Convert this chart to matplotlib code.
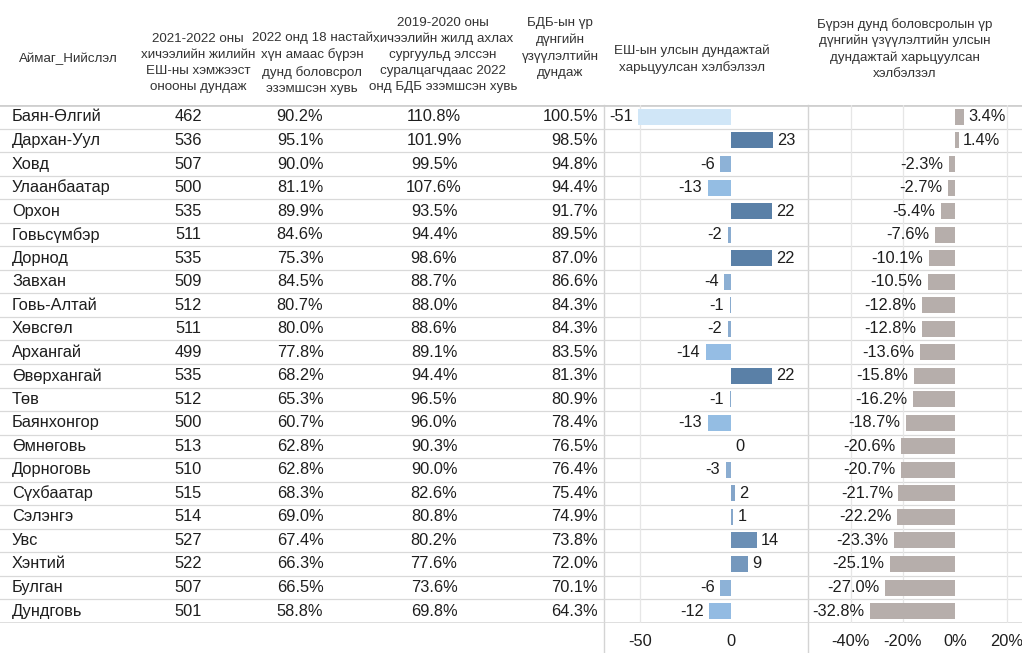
import matplotlib
matplotlib.use("Agg")
import matplotlib.pyplot as plt
from matplotlib.colors import LinearSegmentedColormap, Normalize

plt.rcParams['font.family'] = ['Liberation Sans', 'DejaVu Sans']

regions = ["Баян-Өлгий", "Дархан-Уул", "Ховд", "Улаанбаатар", "Орхон", "Говьсүмбэр",
           "Дорнод", "Завхан", "Говь-Алтай", "Хөвсгөл", "Архангай", "Өвөрхангай", "Төв",
           "Баянхонгор", "Өмнөговь", "Дорноговь", "Сүхбаатар", "Сэлэнгэ", "Увс", "Хэнтий",
           "Булган", "Дундговь"]
esh_score = [462, 536, 507, 500, 535, 511, 535, 509, 512, 511, 499, 535, 512, 500, 513,
             510, 515, 514, 527, 522, 507, 501]
adult_pct = ["90.2%", "95.1%", "90.0%", "81.1%", "89.9%", "84.6%", "75.3%", "84.5%", "80.7%",
             "80.0%", "77.8%", "68.2%", "65.3%", "60.7%", "62.8%", "62.8%", "68.3%", "69.0%",
             "67.4%", "66.3%", "66.5%", "58.8%"]
cohort_pct = ["110.8%", "101.9%", "99.5%", "107.6%", "93.5%", "94.4%", "98.6%", "88.7%",
              "88.0%", "88.6%", "89.1%", "94.4%", "96.5%", "96.0%", "90.3%", "90.0%", "82.6%",
              "80.8%", "80.2%", "77.6%", "73.6%", "69.8%"]
bdb_avg = ["100.5%", "98.5%", "94.8%", "94.4%", "91.7%", "89.5%", "87.0%", "86.6%", "84.3%",
           "84.3%", "83.5%", "81.3%", "80.9%", "78.4%", "76.5%", "76.4%", "75.4%", "74.9%",
           "73.8%", "72.0%", "70.1%", "64.3%"]
esh_dev = [-51, 23, -6, -13, 22, -2, 22, -4, -1, -2, -14, 22, -1, -13, 0, -3, 2, 1, 14, 9, -6, -12]
bdb_dev = [3.4, 1.4, -2.3, -2.7, -5.4, -7.6, -10.1, -10.5, -12.8, -12.8, -13.6, -15.8, -16.2,
           -18.7, -20.6, -20.7, -21.7, -22.2, -23.3, -25.1, -27.0, -32.8]

headers = ["Аймаг_Нийслэл",
           "2021-2022 оны\nхичээлийн жилийн\nЕШ-ны хэмжээст\nонооны дундаж",
           "2022 онд 18 настай\nхүн амаас бүрэн\nдунд боловсрол\nэзэмшсэн хувь",
           "2019-2020 оны\nхичээлийн жилд ахлах\nсургуульд элссэн\nсуралцагчдаас 2022\nонд БДБ эзэмшсэн хувь",
           "БДБ-ын үр\nдүнгийн\nүзүүлэлтийн\nдундаж",
           "ЕШ-ын улсын дундажтай\nхарьцуулсан хэлбэлзэл",
           "Бүрэн дунд боловсролын үр\nдүнгийн үзүүлэлтийн улсын\nдундажтай харьцуулсан\nхэлбэлзэл"]

W, H = 1022, 653
fig = plt.figure(figsize=(W / 100, H / 100), dpi=100)
fig.patch.set_facecolor("white")

n = len(regions)
row_top, row_bot = 105.2, 622.8
P1L, P1R = 604, 808
P2L, P2R = 808, 1022


def add_px_axes(x0, x1, y0, y1):
    return fig.add_axes([x0 / W, 1 - y1 / H, (x1 - x0) / W, (y1 - y0) / H])


# full-figure overlay in pixel coordinates for headers
axh = fig.add_axes([0, 0, 1, 1])
axh.set_xlim(0, W)
axh.set_ylim(H, 0)
axh.axis("off")

hfs = 9.6
hdr_pos = [(68, 59), (198, 63), (312, 63), (443, 55), (560, 48), (692, 59), (905, 49)]
for (hx, hy), txt in zip(hdr_pos, headers):
    axh.text(hx, hy, txt, ha="center", va="center", fontsize=hfs, color="#333333",
             linespacing=1.45)

# vertical separators
for xv in (P1L, P2L):
    axh.plot([xv, xv], [row_top, H], color="#d4d4d4", lw=1.0)

# table axes covering rows, x in pixels
axt = add_px_axes(0, W, row_top, row_bot)
axt.set_xlim(0, W)
axt.set_ylim(n - 0.5, -0.5)
axt.axis("off")
axt.patch.set_alpha(0)
for i in range(1, n):
    axt.axhline(i - 0.5, color="#d9d9d9", lw=0.9)
axt.axhline(-0.5, color="#cfcfcf", lw=2.0)
axt.axhline(n - 0.5, color="#d9d9d9", lw=1.2)

fs = 11.8
tc = "#1e1e1e"
for i in range(n):
    axt.text(12, i, regions[i], ha="left", va="center", fontsize=fs, color=tc)
    axt.text(188, i, str(esh_score[i]), ha="center", va="center", fontsize=fs, color=tc)
    axt.text(300, i, adult_pct[i], ha="center", va="center", fontsize=fs, color=tc)
    axt.text(434, i, cohort_pct[i], ha="center", va="center", fontsize=fs, color=tc)
    axt.text(598, i, bdb_avg[i], ha="right", va="center", fontsize=fs, color=tc)

# panel 1 - ЕШ deviation
cmap = LinearSegmentedColormap.from_list(
    "esh", [(0.0, "#d0e6f7"), (0.52, "#93bce3"), (0.69, "#88a9cc"), (1.0, "#587ea6")])
norm = Normalize(vmin=-51, vmax=23)
ax1 = add_px_axes(P1L, P1R, row_top, row_bot)
ax1.patch.set_alpha(0)
ax1.set_xlim(-69.8, 42.0)
ax1.set_ylim(n - 0.5, -0.5)
ax1.set_yticks([])
ax1.set_xticks([-50, 0])
ax1.set_xticklabels(["-50", "0"])
for s in ax1.spines.values():
    s.set_visible(False)
ax1.tick_params(axis="x", length=0, pad=8, labelsize=fs, labelcolor=tc)
ax1.axvline(-50, color="#e6e6e6", lw=0.9, zorder=0)
ax1.barh(range(n), esh_dev, height=0.68, color=[cmap(norm(v)) for v in esh_dev], zorder=2)
for i, v in enumerate(esh_dev):
    if v < 0:
        ax1.annotate(str(v), (v, i), xytext=(-4, 0), textcoords="offset points",
                     ha="right", va="center", fontsize=fs, color=tc)
    else:
        ax1.annotate(str(v), (v, i), xytext=(3, 0), textcoords="offset points",
                     ha="left", va="center", fontsize=fs, color=tc)

# panel 2 - БДБ deviation
ax2 = add_px_axes(P2L, P2R, row_top, row_bot)
ax2.patch.set_alpha(0)
ax2.set_xlim(-56.5, 25.8)
ax2.set_ylim(n - 0.5, -0.5)
ax2.set_yticks([])
ax2.set_xticks([-40, -20, 0, 20])
ax2.set_xticklabels(["-40%", "-20%", "0%", "20%"])
for s in ax2.spines.values():
    s.set_visible(False)
ax2.tick_params(axis="x", length=0, pad=8, labelsize=fs, labelcolor=tc)
for xv in (-40, -20, 20):
    ax2.axvline(xv, color="#e6e6e6", lw=0.9, zorder=0)
ax2.barh(range(n), bdb_dev, height=0.68, color="#b6aeab", zorder=2)
for i, v in enumerate(bdb_dev):
    lab = f"{v:.1f}%"
    if v < 0:
        ax2.annotate(lab, (v, i), xytext=(-4, 0), textcoords="offset points",
                     ha="right", va="center", fontsize=fs, color=tc)
    else:
        ax2.annotate(lab, (v, i), xytext=(3, 0), textcoords="offset points",
                     ha="left", va="center", fontsize=fs, color=tc)

fig.savefig("out.png", dpi=100, facecolor="white")
